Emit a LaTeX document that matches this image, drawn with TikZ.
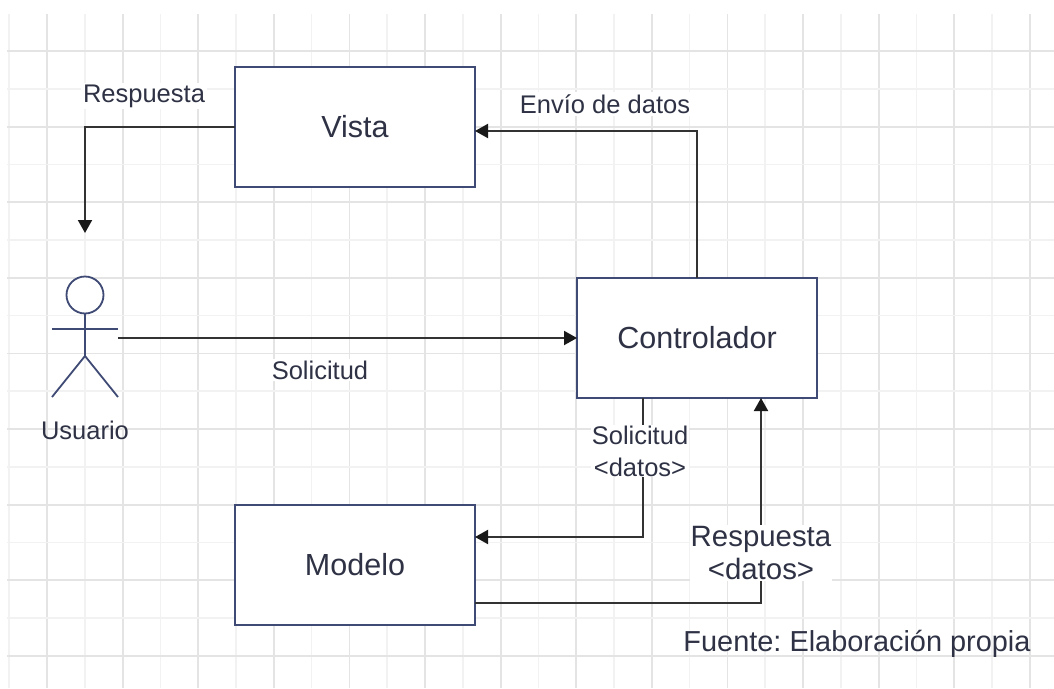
\documentclass[tikz,border=0pt]{standalone}
\usepackage{fontspec}
\setmainfont{Liberation Sans}
\usepackage{tikz}
\usetikzlibrary{arrows.meta,calc}
\tikzset{
  font={\fontsize{25.5pt}{31}\selectfont}}
\definecolor{boxblue}{HTML}{3F4A75}
\definecolor{inkgrey}{HTML}{2E3244}
\definecolor{gridmajor}{HTML}{E4E4E4}
\definecolor{gridminor}{HTML}{F2F2F2}

\begin{document}
\begin{tikzpicture}[x=1pt,y=-1pt,
    block_main/.style ={rectangle, draw=boxblue, line width=2pt, fill=white, text=inkgrey,
      minimum width=240pt, minimum height=120pt, outer sep=0pt,
      font={\fontsize{30.5pt}{36}\selectfont}},
    block_label/.style ={rectangle, draw=none, fill=white, text=inkgrey, inner sep=2pt,
      align=center},
    block_big/.style ={block_label, inner sep=1pt,
      font={\fontsize{29.4pt}{33}\selectfont}},
    actor_line/.style={draw=boxblue, line width=1.8pt},
    paths2/.style={draw=black!80, line width=2pt, arrows={-Triangle[length=13pt, width=14pt, black!90]}}]
    \useasboundingbox (0,0) rectangle (1054,688);
    \fill[white] (0,0) rectangle (1054,688);
    % squared paper
    \foreach \i in {-1,1,...,27}
      \draw[gridminor, line width=1.6pt] (47+37.8*\i,14) -- (47+37.8*\i,688);
    \foreach \i in {0,2,...,26}
      \draw[gridmajor, line width=1.8pt] (47+37.8*\i,14) -- (47+37.8*\i,688);
    \foreach \j in {1,3,...,17}
      \draw[gridminor, line width=1.6pt] (7,51+37.8*\j) -- (1054,51+37.8*\j);
    \foreach \j in {0,2,...,16}
      \draw[gridmajor, line width=1.8pt] (7,51+37.8*\j) -- (1054,51+37.8*\j);
    % the three blocks
    \node[block_main] (vista) at (355,127) {Vista};
    \node[block_main] (controlador) at (697,338) {Controlador};
    \node[block_main] (modelo) at (355,565) {Modelo};
    % actor
    \node[circle, draw=boxblue, line width=1.8pt, fill=white, minimum size=37pt, inner sep=0pt, outer sep=0pt] (cabeza) at (85,295) {};
    \coordinate (cadera) at (85,356);
    \coordinate (mano_izq) at (52,329);
    \coordinate (mano_der) at (118,329);
    \coordinate (pie_izq) at (52,397);
    \coordinate (pie_der) at (118,397);
    \draw[actor_line] (cabeza.south) -- (cadera);
    \draw[actor_line] (mano_izq) -- (mano_der);
    \draw[actor_line] (pie_izq) -- (cadera) -- (pie_der);
    \node[text=inkgrey] (usuario) at (85,430) {Usuario};
    % ends of the connectors
    \coordinate (flecha_usuario) at (85,233);
    \coordinate (salida_usuario) at (118,338);
    \coordinate (vista_in) at ($(vista.east)+(0,4)$);
    \coordinate (ctrl_out) at ($(controlador.south)+(-54,0)$);
    \coordinate (ctrl_in) at ($(controlador.south)+(64,0)$);
    \coordinate (modelo_in) at ($(modelo.east)+(0,-28)$);
    \coordinate (modelo_out) at ($(modelo.east)+(0,38)$);
    % connecting nodes with paths
    \begin{scope}[every path/.style=paths2]
      \path(vista.west)-|(flecha_usuario);
      \path(controlador.north)|-(vista_in);
      \path(salida_usuario)--(controlador.west);
      \path(ctrl_out)|-(modelo_in);
      \path(modelo_out)-|(ctrl_in);
    \end{scope}
    % labels on top of the lines
    \node[block_label] (respuesta1) at (144,96) {Respuesta};
    \node[block_label] (envio) at (605,104) {Envío de datos};
    \node[block_label] (solicitud1) at (320,370) {Solicitud};
    \node[block_label, inner sep=1pt, font={\fontsize{25.5pt}{32}\selectfont}] (solicitud2) at (640,451) {Solicitud\\<datos>};
    \node[block_big] (respuesta2) at (761,553) {Respuesta\\<datos>};
    \node[text=inkgrey, font={\fontsize{28.9pt}{35}\selectfont\frenchspacing}] (fuente) at (857,644) {Fuente: Elaboración propia};
\end{tikzpicture}
\end{document}
